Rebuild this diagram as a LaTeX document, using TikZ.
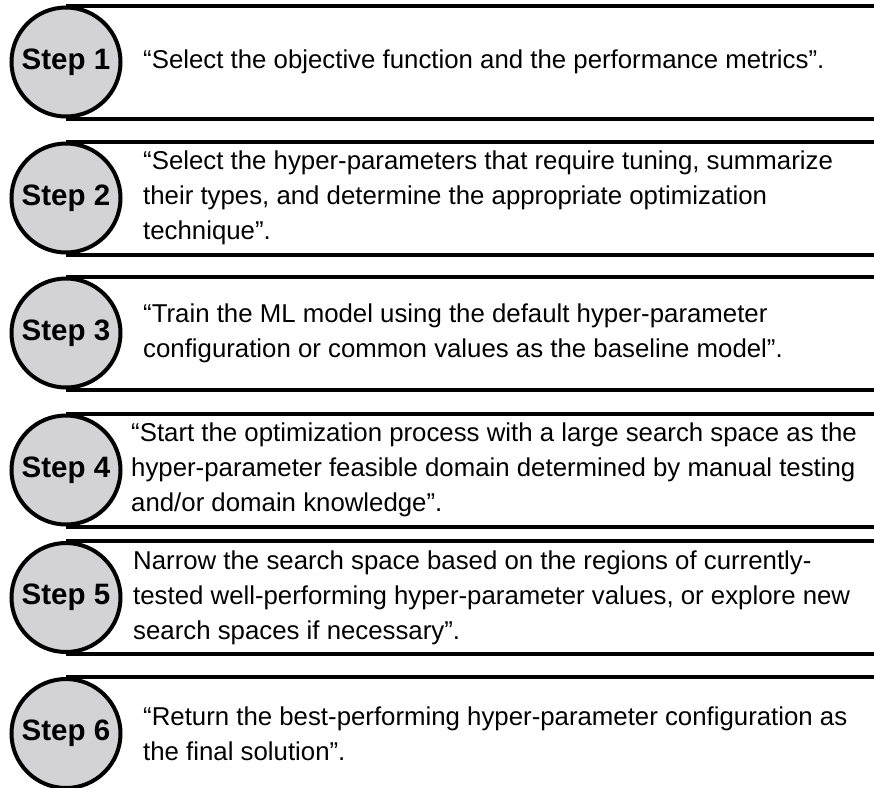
\documentclass[tikz,border=0pt]{standalone}
\usepackage{fontspec}
\setmainfont{Liberation Sans}
\usetikzlibrary{backgrounds}
\definecolor{stepfill}{RGB}{211,211,213}
\begin{document}
\begin{tikzpicture}[x=1pt,y=-1pt,
  stepcircle/.style={circle, draw=black, line width=4pt, fill=stepfill,
    minimum size=109pt, inner sep=0pt,
    font=\bfseries\fontsize{29.5}{32}\selectfont},
  steptext/.style={anchor=west, align=left, inner sep=0pt,
    font=\fontsize{25.8}{35}\selectfont},
  rail/.style={line width=4pt, black}]
\useasboundingbox (0,0) rectangle (874,787);
\clip (0,0) rectangle (874,787);

% right end of every rail
\coordinate (rightedge) at (880,0);

% step badges
\node[stepcircle] (s1) at (66,62)    {Step 1};
\node[stepcircle] (s2) at (66,198)   {Step 2};
\node[stepcircle] (s3) at (66,333)   {Step 3};
\node[stepcircle] (s4) at (66,470)   {Step 4};
\node[stepcircle] (s5) at (66,597.5) {Step 5};
\node[stepcircle] (s6) at (66,733.5) {Step 6};

% step descriptions
\node[steptext] (t1) at (143,62)
  {“Select the objective function and the performance metrics”.};
\node[steptext] (t2) at (143,198)
  {“Select the hyper-parameters that require tuning, summarize\\
   their types, and determine the appropriate optimization\\
   technique”.};
\node[steptext] (t3) at (143,333)
  {“Train the ML model using the default hyper-parameter\\
   configuration or common values as the baseline model”.};
\node[steptext] (t4) at (131,470)
  {“Start the optimization process with a large search space as the\\
   hyper-parameter feasible domain determined by manual testing\\
   and/or domain knowledge”.};
\node[steptext] (t5) at (133,597.5)
  {Narrow the search space based on the regions of currently-\\
   tested well-performing hyper-parameter values, or explore new\\
   search spaces if necessary”.};
\node[steptext] (t6) at (143,733.5)
  {“Return the best-performing hyper-parameter configuration as\\
   the final solution”.};

% rails above and below each step, behind the badges
\begin{pgfonlayer}{background}
  \foreach \i in {1,...,6} {
    \draw[rail] (s\i.north) -- (s\i.north -| rightedge);
    \draw[rail] (s\i.south) -- (s\i.south -| rightedge);
  }
\end{pgfonlayer}
\end{tikzpicture}
\end{document}
